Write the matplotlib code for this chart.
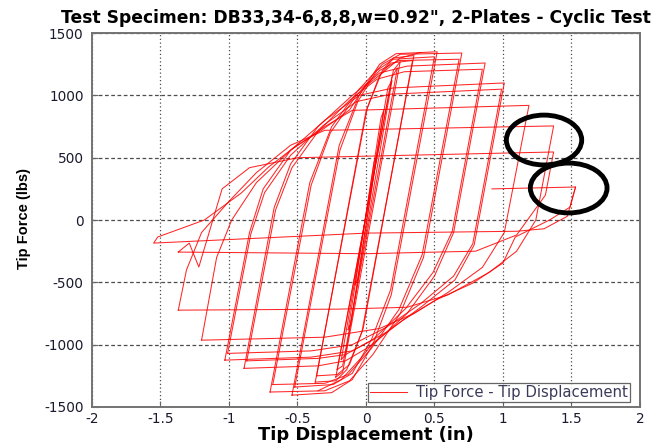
import matplotlib
matplotlib.use("Agg")
import matplotlib.pyplot as plt
from matplotlib.patches import Ellipse

plt.rcParams["font.family"] = ["DejaVu Sans"]
plt.rcParams["axes.unicode_minus"] = False

title = 'Test Specimen: DB33,34-6,8,8,w=0.92", 2-Plates - Cyclic Test'
xlabel = "Tip Displacement (in)"
ylabel = "Tip Force (lbs)"
legend_label = "Tip Force - Tip Displacement"

xticks = [-2, -1.5, -1, -0.5, 0, 0.5, 1, 1.5, 2]
xtick_labels = ["-2", "-1.5", "-1", "-0.5", "0", "0.5", "1", "1.5", "2"]
yticks = [-1500, -1000, -500, 0, 500, 1000, 1500]

# hysteresis cycles (tip displacement in, tip force lbs)
loop_disp = [
    [-0.08, 0.06, 0.08, -0.06, -0.08],
    [-0.13, 0.11, 0.13, -0.11, -0.13],
    [-0.18, 0.16, 0.19, -0.15, -0.18],
    [-0.22, 0.20, 0.25, -0.17, -0.22],
    [-0.21, 0.19, 0.23, -0.17, -0.21],
    [-0.37, 0.01, 0.12, 0.20, 0.35, -0.03, -0.14, -0.22, -0.37],
    [-0.36, 0.00, 0.10, 0.18, 0.34, -0.02, -0.12, -0.21, -0.36],
    [-0.54, -0.195, -0.05, 0.10, 0.22, 0.52, 0.185, 0.05, -0.10, -0.25, -0.54],
    [-0.52, -0.19, -0.06, 0.08, 0.20, 0.50, 0.18, 0.04, -0.10, -0.24, -0.52],
    [-0.70, -0.41, -0.25, -0.05, 0.12, 0.25, 0.70, 0.42, 0.25, 0.05, -0.12, -0.30, -0.70],
    [-0.68, -0.40, -0.26, -0.07, 0.10, 0.24, 0.68, 0.41, 0.24, 0.04, -0.13, -0.30, -0.68],
    [-0.89, -0.67, -0.55, -0.35, -0.10, 0.10, 0.30, 0.87, 0.64, 0.50, 0.30, 0.05, -0.15, -0.35, -0.89],
    [-0.87, -0.66, -0.54, -0.35, -0.12, 0.08, 0.28, 0.85, 0.63, 0.49, 0.29, 0.05, -0.15, -0.35, -0.87],
    [-1.03, -0.85, -0.75, -0.55, -0.30, -0.05, 0.20, 1.01, 0.79, 0.65, 0.40, 0.15, -0.10, -0.40, -1.03],
    [-1.01, -0.84, -0.74, -0.55, -0.31, -0.07, 0.18, 0.99, 0.78, 0.64, 0.40, 0.15, -0.10, -0.40, -1.01],
    [-1.20, -1.09, -0.98, -0.80, -0.55, -0.30, -0.10, 1.19, 1.01, 0.85, 0.60, 0.35, 0.10, -0.30, -1.20],
    [-1.37, -1.31, -1.20, -1.00, -0.80, -0.55, -0.30, 1.37, 1.24, 1.10, 0.90, 0.60, 0.30, -0.20, -1.37],
    [-1.37, -1.29, -1.22, -1.05, -0.85, -0.50, 1.37, 1.31, 1.10, 0.80, 0.00, -1.37],
    [0.92, 1.53, 1.47, 1.30, 1.10, 0.00, -1.55, -1.52, -1.18, -0.91, -0.71, -0.52, -0.32, -0.12, -0.01, 0.12, 0.25, 0.40],
    [1.53, 1.49, 1.34, 1.09, 1.00, 0.78, 0.51, 0.27, 0.05, -0.03, -0.18, -0.35],
]
loop_force = [
    [-520, 470, 520, -470, -520],
    [-880, 820, 880, -830, -880],
    [-1120, 1060, 1120, -1080, -1120],
    [-1260, 1200, 1270, -1220, -1260],
    [-1200, 1150, 1220, -1170, -1200],
    [-1300, 900, 1200, 1300, 1320, -900, -1200, -1290, -1300],
    [-1250, 870, 1160, 1260, 1280, -870, -1160, -1240, -1250],
    [-1405, 600, 1000, 1250, 1335, 1350, -600, -1000, -1280, -1385, -1405],
    [-1340, 560, 950, 1200, 1290, 1310, -560, -960, -1230, -1320, -1340],
    [-1380, 300, 750, 1050, 1250, 1330, 1340, -300, -750, -1080, -1290, -1370, -1380],
    [-1320, 280, 700, 1000, 1200, 1280, 1290, -280, -720, -1030, -1240, -1310, -1320],
    [-1190, 100, 450, 750, 1000, 1180, 1235, 1260, -100, -450, -750, -1000, -1130, -1170, -1190],
    [-1130, 80, 420, 710, 960, 1130, 1190, 1210, -90, -420, -710, -960, -1080, -1110, -1130],
    [-1124, -100, 250, 560, 800, 1000, 1060, 1100, -200, -480, -700, -900, -1050, -1100, -1124],
    [-1070, -110, 220, 520, 760, 950, 1010, 1050, -190, -450, -670, -860, -1000, -1050, -1070],
    [-964, -300, 0, 300, 560, 750, 880, 920, -100, -380, -580, -750, -870, -940, -964],
    [-723, -400, -100, 150, 380, 600, 720, 755, 0, -250, -420, -600, -700, -715, -723],
    [-257, -185, -377, 250, 420, 500, 546, 200, -120, -250, -270, -257],
    [250, 265, 30, -70, -90, -105, -185, -136, 0, 217, 426, 586, 723, 883, 1068, 1180, 1300, 1345],
    [265, 104, 0, -136, -345, -506, -642, -803, -988, -1100, -1280, -1370],
]

# hand-drawn circles marking the last peaks (centre disp, centre force, width, height)
mark_x = [1.30, 1.48]
mark_y = [642, 257]
mark_w = [0.55, 0.56]
mark_h = [400, 400]

fig = plt.figure(figsize=(6.57, 4.43), dpi=100)
ax = fig.add_axes([0.140, 0.0813, 0.834, 0.844])

for i in range(len(loop_disp)):
    ax.plot(loop_disp[i], loop_force[i], color="red", lw=0.75, alpha=0.85,
            label=legend_label if i == 0 else None)

for cx, cy, w, h in zip(mark_x, mark_y, mark_w, mark_h):
    ax.add_patch(Ellipse((cx, cy), w, h, fill=False, ec="black", lw=3.5,
                         zorder=5, clip_on=False))

ax.set_xlim(-2, 2)
ax.set_ylim(-1500, 1500)
ax.set_xticks(xticks)
ax.set_xticklabels(xtick_labels)
ax.set_yticks(yticks)
ax.tick_params(direction="in", length=4, labelsize=9.8, colors="0.4",
               labelcolor="#1a1a2e")
ax.tick_params(axis="y", pad=6)
ax.xaxis.grid(True, linestyle=(0, (1, 2)), color="0.3", lw=0.9)
ax.yaxis.grid(True, linestyle=(0, (3, 2)), color="0.3", lw=0.9)
for s in ax.spines.values():
    s.set_color("0.45")
    s.set_linewidth(1.4)

ax.set_title(title, fontsize=12.3, fontweight="bold", pad=7, x=0.482)
ax.set_xlabel(xlabel, fontsize=12.9, fontweight="bold", labelpad=0)
ax.set_ylabel(ylabel, fontsize=10.5, fontweight="bold",
              family=["Liberation Sans", "DejaVu Sans"])
ax.yaxis.set_label_coords(-0.111, 0.505)

leg = ax.legend(loc="lower right", bbox_to_anchor=(0.982, 0.013),
                borderaxespad=0, fontsize=10.7, fancybox=False,
                edgecolor="0.25", handlelength=2.5, handletextpad=0.6,
                borderpad=0.15)
leg.get_frame().set_linewidth(0.9)
for t in leg.get_texts():
    t.set_color("#3a3a5a")

plt.savefig("out.png", dpi=100)
